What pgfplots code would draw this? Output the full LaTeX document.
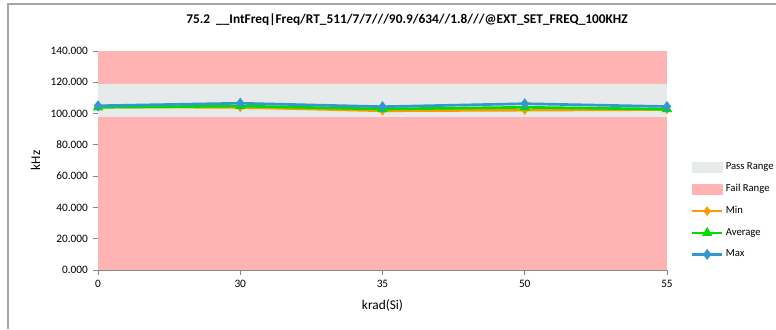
\documentclass[border=0pt]{standalone}
\usepackage{pgfplots}
\pgfplotsset{compat=1.18}
\usepackage{fontspec}
\setmainfont{Carlito}
\definecolor{failc}{HTML}{FFB3B3}
\definecolor{passc}{HTML}{E6EAEA}
\definecolor{minc}{HTML}{FF9900}
\definecolor{avgc}{HTML}{00DD00}
\definecolor{maxc}{HTML}{3399CC}
\definecolor{axc}{HTML}{888888}
\begin{document}
\begin{tikzpicture}[x=1pt,y=1pt]
\useasboundingbox (-73.5,-44.25) rectangle (508.5,202.5);
\draw[gray!70, line width=1pt] (-67.5,-44.25) -- (-67.5,199.5) -- (508.5,199.5);
\begin{axis}[
  at={(0,0)}, anchor=south west,
  scale only axis, width=426.75pt, height=164.25pt,
  xmin=0, xmax=4, ymin=0, ymax=140,
  xtick={0,1,2,3,4}, xticklabels={0,30,35,50,55},
  ytick={0,20,...,140},
  yticklabel style={/pgf/number format/.cd, fixed, fixed zerofill, precision=3, 1000 sep={}},
  /pgf/number format/assume math mode=true,
  tick label style={font=\fontsize{8.5}{10}\selectfont, color=black},
  axis x line*=bottom, axis y line*=left,
  axis line style={axc, line width=0.6pt},
  tick style={axc, line width=0.6pt},
  tick align=outside, major tick length=4pt,
  xlabel={krad(Si)}, ylabel={kHz},
  label style={font=\fontsize{10}{12}\selectfont},
  xlabel style={yshift=-2pt},
  ylabel style={yshift=1pt},
  legend style={draw=none, fill=none, font=\fontsize{8}{10}\selectfont,
    at={(1.042,0.27)}, anchor=west, row sep=5.5pt,
    legend cell align=left, inner xsep=0pt},
  legend image code/.code={%
    \draw[mark repeat=2,mark phase=2,#1] plot coordinates {(0pt,0pt) (11pt,0pt) (22pt,0pt)};},
  clip=false,
]
\addplot[fill=failc, draw=none, forget plot] coordinates {(0,0) (0,140) (4,140) (4,0)} -- cycle;
\addplot[fill=passc, draw=none, forget plot] coordinates {(0,98) (0,119) (4,119) (4,98)} -- cycle;
\addlegendimage{legend image code/.code={\fill[passc] (0pt,-3.5pt) rectangle (22pt,3.5pt);}}
\addlegendentry{Pass Range}
\addlegendimage{legend image code/.code={\fill[failc] (0pt,-3.5pt) rectangle (22pt,3.5pt);}}
\addlegendentry{Fail Range}
\addplot[minc, line width=2pt, mark=diamond*, mark size=2pt] coordinates {(0,104.3) (1,104.0) (2,101.8) (3,102.2) (4,102.6)};
\addlegendentry{Min}
\addplot[avgc, line width=2pt, mark=triangle*, mark size=2.5pt] coordinates {(0,104.0) (1,104.8) (2,102.9) (3,104.0) (4,102.8)};
\addlegendentry{Average}
\addplot[maxc, line width=2pt, mark=diamond*, mark size=2.5pt] coordinates {(0,105.0) (1,106.6) (2,104.4) (3,106.3) (4,104.5)};
\addlegendentry{Max}
\end{axis}
\node[font=\bfseries\fontsize{10}{12}\selectfont] at (231.75,187.5) {75.2\ \ \_\_IntFreq|Freq/RT\_511/7/7///90.9/634//1.8///@EXT\_SET\_FREQ\_100KHZ};
\end{tikzpicture}
\end{document}
